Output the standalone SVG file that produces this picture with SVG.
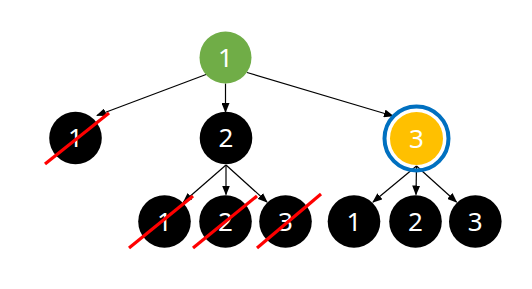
<svg xmlns="http://www.w3.org/2000/svg" width="532" height="289" viewBox="0 0 532 289">
<defs>
<marker id="arr" markerWidth="10" markerHeight="8" refX="9" refY="4" orient="auto" markerUnits="userSpaceOnUse">
<path d="M0,0 L10,4 L0,8 Z" fill="#000"/>
</marker>
<style>
.e{stroke:#000;stroke-width:1.2;fill:none;marker-end:url(#arr)}
.n{fill:#000}
.t{fill:#fff;font-family:"Noto Sans","Open Sans","DejaVu Sans",sans-serif;font-size:26px;text-anchor:middle}
.x{stroke:#ff0000;stroke-width:3.2;stroke-linecap:butt}
</style>
</defs>
<rect width="532" height="289" fill="#fff"/>
<g id="connectors">
<line class="e" x1="206.7" y1="74.3" x2="97" y2="115.5"/>
<line class="e" x1="225.5" y1="83.5" x2="225.5" y2="112"/>
<line class="e" x1="247" y1="72.5" x2="393" y2="116"/>
<line class="e" x1="226" y1="165" x2="183.5" y2="202"/>
<line class="e" x1="226" y1="165" x2="226" y2="194.5"/>
<line class="e" x1="226" y1="165" x2="267" y2="202"/>
<line class="e" x1="416.5" y1="166" x2="373" y2="202"/>
<line class="e" x1="416.5" y1="166" x2="416" y2="194.5"/>
<line class="e" x1="416.5" y1="166" x2="456.5" y2="202"/>
</g>
<g id="root">
<circle cx="225.5" cy="57.5" r="26" fill="#70ad47"/>
<text class="t" x="225.5" y="66.5">1</text>
</g>
<g id="l1a">
<circle class="n" cx="75.5" cy="138" r="26.3"/>
<text class="t" x="75.5" y="147">1</text>
<line class="x" x1="45" y1="164" x2="109" y2="113"/>
</g>
<g id="l1b">
<circle class="n" cx="226" cy="138" r="26.3"/>
<text class="t" x="226" y="147">2</text>
</g>
<g id="l1c">
<circle cx="416.5" cy="138.5" r="32" fill="none" stroke="#0070c0" stroke-width="4"/>
<circle cx="416.5" cy="138.5" r="26.5" fill="#ffc000"/>
<text class="t" x="416.5" y="147.5">3</text>
</g>
<g id="l2a">
<circle class="n" cx="164.5" cy="221.5" r="26.3"/>
<text class="t" x="164.5" y="230.5">1</text>
<line class="x" x1="129" y1="248" x2="193" y2="196"/>
</g>
<g id="l2b">
<circle class="n" cx="225.5" cy="221.5" r="26.3"/>
<text class="t" x="225.5" y="230.5">2</text>
<line class="x" x1="193" y1="248" x2="257" y2="196"/>
</g>
<g id="l2c">
<circle class="n" cx="285.5" cy="221.5" r="26.3"/>
<text class="t" x="285.5" y="230.5">3</text>
<line class="x" x1="257" y1="248" x2="321" y2="194"/>
</g>
<g id="l2d">
<circle class="n" cx="354" cy="221.5" r="26.3"/>
<text class="t" x="354" y="230.5">1</text>
</g>
<g id="l2e">
<circle class="n" cx="415.5" cy="221.5" r="26.3"/>
<text class="t" x="415.5" y="230.5">2</text>
</g>
<g id="l2f">
<circle class="n" cx="475.3" cy="221.5" r="26.3"/>
<text class="t" x="475.3" y="230.5">3</text>
</g>
</svg>
